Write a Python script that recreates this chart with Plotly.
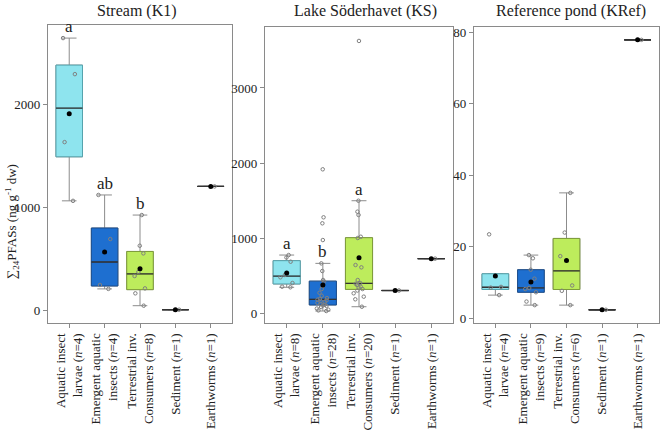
import numpy as np
import plotly.graph_objects as go

# ---------------- data ----------------
panel_titles = ["Stream (K1)", "Lake Söderhavet (KS)", "Reference pond (KRef)"]
group_names = ["Aquatic insect<br>larvae", "Emergent aquatic<br>insects",
               "Terrestrial inv.<br>Consumers", "Sediment", "Earthworms"]

# Stream (K1)
k1_aquatic_larvae = [2640, 2290, 1630, 1060]
k1_emergent = [1117, 689, 243, 205]
k1_terrestrial = [922, 624, 550, 370, 330, 210, 162, 42]
k1_sediment = [3]
k1_earthworms = [1200]
k1_letters = ["a", "ab", "b", "", ""]

# Lake Söderhavet (KS)
ks_aquatic_larvae = [773, 740, 684, 507, 476, 400, 351, 343]
ks_emergent = [27, 35, 45, 60, 80, 95, 100, 110, 120, 135, 150, 160, 170, 178,
               188, 200, 230, 270, 320, 360, 420, 440, 560, 662, 973, 1196, 1276, 1916]
ks_terrestrial = [84, 183, 218, 263, 300, 320, 340, 351, 373, 390, 400, 440, 609, 640,
                  1000, 1017, 1307, 1351, 1497, 3627]
ks_sediment = [300]
ks_earthworms = [725]
ks_letters = ["a", "b", "a", "", ""]

# Reference pond (KRef)
kref_aquatic_larvae = [23.4, 8.7, 8.5, 6.4]
kref_emergent = [3.6, 4.6, 7.2, 8.1, 8.4, 11.0, 13.5, 16.7, 17.6]
kref_terrestrial = [3.6, 7.6, 9.1, 17.3, 23.9, 35.0]
kref_sediment = [2.3]
kref_earthworms = [77.8]
kref_letters = ["", "", "", "", ""]

y_ticks = [[0, 1000, 2000], [0, 1000, 2000, 3000], [0, 20, 40, 60, 80]]
y_ranges = [[-126, 2767], [-133, 3813], [-1.4, 81.4]]

panels = [
    [k1_aquatic_larvae, k1_emergent, k1_terrestrial, k1_sediment, k1_earthworms],
    [ks_aquatic_larvae, ks_emergent, ks_terrestrial, ks_sediment, ks_earthworms],
    [kref_aquatic_larvae, kref_emergent, kref_terrestrial, kref_sediment, kref_earthworms],
]
letters = [k1_letters, ks_letters, kref_letters]

# ---------------- style ----------------
fills = ["#8EE4EE", "#1E6FD0", "#BDEC5C", "rgba(0,0,0,0)", "rgba(0,0,0,0)"]
borders = ["#55A3AD", "#1B4E8E", "#7E9C3A", "#333333", "#333333"]
W, H = 666, 434
# pixel boxes of the three panels: (left, right, top, bottom)
boxes = [(48, 232, 25, 323), (265, 453, 27, 323), (474, 659, 27, 323)]
title_x = [137, 365, 571]
FONT = "Liberation Serif"
AXC = "#8a8a8a"


def stats(v):
    a = np.asarray(v, dtype=float)
    q1, med, q3 = np.percentile(a, [25, 50, 75])
    iqr = q3 - q1
    lf = a[a >= q1 - 1.5 * iqr].min()
    uf = a[a <= q3 + 1.5 * iqr].max()
    return q1, med, q3, min(lf, q1), max(uf, q3), a.mean()


fig = go.Figure()
annotations = []
for p, groups in enumerate(panels):
    xa = "x" if p == 0 else f"x{p+1}"
    ya = "y" if p == 0 else f"y{p+1}"
    for g, vals in enumerate(groups):
        pos = g + 1
        q1, med, q3, lf, uf, mean = stats(vals)
        common = dict(xaxis=xa, yaxis=ya, width=0.75, showlegend=False, hoverinfo="skip")
        # whiskers (grey)
        fig.add_trace(go.Box(x=[pos], q1=[q1], median=[med], q3=[q3], lowerfence=[lf],
                             upperfence=[uf], whiskerwidth=0.55, boxpoints=False,
                             line=dict(color="#8c8c8c", width=1),
                             fillcolor="rgba(0,0,0,0)", **common))
        # coloured box
        fig.add_trace(go.Box(x=[pos], q1=[q1], median=[med], q3=[q3], lowerfence=[q1],
                             upperfence=[q3], whiskerwidth=0, boxpoints=False,
                             line=dict(color=borders[g], width=1),
                             fillcolor=fills[g], **common))
        # median line
        fig.add_trace(go.Box(x=[pos], q1=[med], median=[med], q3=[med], lowerfence=[med],
                             upperfence=[med], whiskerwidth=0, boxpoints=False,
                             line=dict(color="#333333", width=1.3),
                             fillcolor="rgba(0,0,0,0)", **common))
        # jittered points
        fig.add_trace(go.Box(x=[pos] * len(vals), y=vals, boxpoints="all", jitter=0.55,
                             pointpos=0, line=dict(color="rgba(0,0,0,0)", width=0),
                             fillcolor="rgba(0,0,0,0)",
                             marker=dict(symbol="circle-open", size=3.5, color="#808080",
                                         line=dict(width=1, color="#808080")),
                             **common))
        # mean
        fig.add_trace(go.Scatter(x=[pos], y=[mean], mode="markers", xaxis=xa, yaxis=ya,
                                 marker=dict(color="black", size=5, symbol="circle"),
                                 showlegend=False, hoverinfo="skip"))
        if letters[p][g]:
            annotations.append(dict(x=pos, y=uf, xref=xa, yref=ya, text=letters[p][g],
                                    showarrow=False, yanchor="bottom", yshift=0,
                                    font=dict(family=FONT, size=17, color="#222")))

    l, r, t, b = boxes[p]
    n_list = [len(v) for v in groups]
    ticktext = []
    for name, n in zip(group_names, n_list):
        ticktext.append(f"{name} (<i>n</i>={n})")
    axis_common = dict(showline=True, mirror=True, linecolor=AXC, linewidth=1.2,
                       ticks="outside", ticklen=4, tickcolor=AXC, showgrid=False,
                       zeroline=False, automargin=False,
                       tickfont=dict(family=FONT, size=13, color="#222"))
    fig.update_layout(**{
        ("xaxis" if p == 0 else f"xaxis{p+1}"): dict(
            domain=[l / W, r / W], anchor=ya, range=[0.4, 5.6],
            tickvals=[1, 2, 3, 4, 5], ticktext=ticktext, tickangle=-90, **axis_common),
        ("yaxis" if p == 0 else f"yaxis{p+1}"): dict(
            domain=[1 - b / H, 1 - t / H], anchor=xa, range=y_ranges[p],
            tickvals=y_ticks[p], **axis_common),
    })
    annotations.append(dict(x=title_x[p] / W, y=1 - 11 / H, xref="paper", yref="paper",
                            text=panel_titles[p], showarrow=False, xanchor="center",
                            yanchor="middle", font=dict(family=FONT, size=16, color="#222")))

annotations.append(dict(x=12 / W, y=1 - 222 / H, xref="paper", yref="paper",
                        text="∑<sub>24</sub>PFASs (ng g<sup>-1</sup> dw)", textangle=-90,
                        showarrow=False, xanchor="center", yanchor="middle",
                        font=dict(family=FONT, size=13, color="#222")))

fig.update_layout(width=W, height=H, margin=dict(l=0, r=0, t=0, b=0, autoexpand=False),
                  paper_bgcolor="white", plot_bgcolor="white", boxmode="overlay",
                  annotations=annotations)
fig.write_html("out.html", config={"displayModeBar": False},
               post_script="document.body.style.margin='0';document.body.style.overflow='hidden';")
